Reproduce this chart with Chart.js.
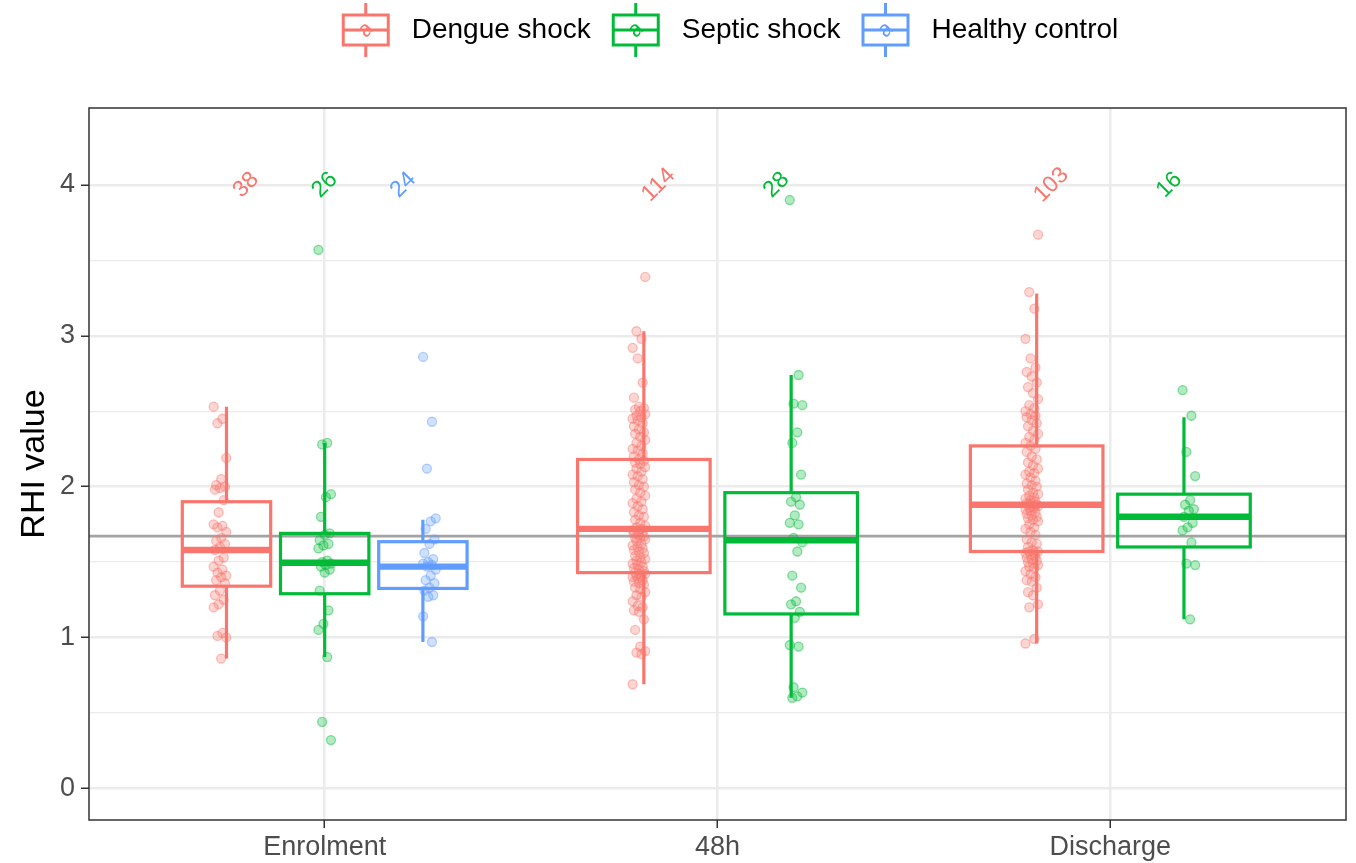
<!DOCTYPE html>
<html>
<head>
<meta charset="utf-8">
<script src="https://cdn.jsdelivr.net/npm/chart.js@4.4.1/dist/chart.umd.min.js"></script>
<style>
  html, body { margin: 0; padding: 0; background: #fff; }
</style>
</head>
<body>
<canvas id="chart" width="1356" height="863"></canvas>
<script>
const timepoints = ['Enrolment', '48h', 'Discharge']
const groupNames = ['Dengue shock', 'Septic shock', 'Healthy control']
const groupColours = ['#F8766D', '#00BA38', '#619CFF']
const yTickValues = [0, 1, 2, 3, 4]
const referenceLine = 1.672
const labelLevel = 4

// RHI values, one array per group and timepoint
const dengueEnrolment = [2.53, 2.45, 2.42, 2.19, 2.05, 2.01, 2.00, 1.99, 1.98, 1.91, 1.83, 1.75, 1.74, 1.73, 1.70, 1.66, 1.64, 1.62, 1.60, 1.58,
  1.53, 1.51, 1.47, 1.45, 1.43, 1.41, 1.40, 1.38, 1.36, 1.31, 1.28, 1.25, 1.22, 1.20, 1.03, 1.01, 1.00, 0.86]
const dengue48h = [0.69, 0.89, 0.90, 0.91, 0.94, 1.05, 1.12, 1.17, 1.18, 1.20, 1.21, 1.24, 1.27, 1.28, 1.30, 1.32, 1.33, 1.35, 1.36, 1.37,
  1.38, 1.39, 1.40, 1.40, 1.41, 1.42, 1.42, 1.43,
  1.44, 1.45, 1.46, 1.47, 1.48, 1.49, 1.50, 1.51, 1.52, 1.53, 1.54, 1.56, 1.57, 1.58, 1.59, 1.60, 1.61, 1.62, 1.64, 1.65,
  1.66, 1.66, 1.67, 1.68, 1.69, 1.70, 1.70, 1.71, 1.72,
  1.73, 1.74, 1.76, 1.78, 1.80, 1.81, 1.83, 1.85, 1.87, 1.89, 1.90, 1.92, 1.94, 1.96, 1.98, 2.00, 2.01, 2.03, 2.05, 2.07,
  2.08, 2.10, 2.12, 2.13, 2.15, 2.16, 2.17, 2.18,
  2.20, 2.22, 2.24, 2.25, 2.27, 2.29, 2.31, 2.33, 2.35, 2.36, 2.38, 2.40, 2.42, 2.44, 2.45, 2.46, 2.47, 2.48, 2.50, 2.51,
  2.52, 2.53, 2.59, 2.69, 2.85, 2.92, 2.98, 3.03, 3.39]
const dengueDischarge = [0.96, 0.99, 1.20, 1.22, 1.28, 1.30, 1.33, 1.37, 1.38, 1.40, 1.42, 1.44, 1.46, 1.47, 1.48, 1.49, 1.50, 1.51, 1.52, 1.53,
  1.54, 1.55, 1.56, 1.56, 1.57, 1.57,
  1.58, 1.60, 1.62, 1.63, 1.65, 1.68, 1.70, 1.72, 1.73, 1.75, 1.77, 1.78, 1.79, 1.80, 1.81, 1.82, 1.83, 1.84, 1.85, 1.86,
  1.86, 1.87, 1.87, 1.88, 1.88,
  1.89, 1.89, 1.90, 1.91, 1.92, 1.93, 1.94, 1.95, 1.96, 1.98, 2.00, 2.01, 2.02, 2.04, 2.06, 2.08, 2.09, 2.10, 2.12, 2.14,
  2.16, 2.18, 2.20, 2.23, 2.25, 2.27,
  2.29, 2.31, 2.33, 2.35, 2.37, 2.40, 2.42, 2.44, 2.46, 2.47, 2.48, 2.50, 2.52, 2.54, 2.58, 2.62, 2.66, 2.69, 2.73, 2.76,
  2.79, 2.85, 2.98, 3.18, 3.29, 3.67]
const septicEnrolment = [3.57, 2.29, 2.28, 1.95, 1.93, 1.80, 1.69, 1.68, 1.645, 1.62, 1.61, 1.59, 1.51, 1.50, 1.49, 1.48, 1.47, 1.45, 1.43,
  1.31, 1.18, 1.09, 1.05, 0.87, 0.44, 0.32]
const septic48h = [3.90, 2.74, 2.55, 2.54, 2.36, 2.29, 2.08, 1.93, 1.90, 1.88, 1.81, 1.76, 1.75, 1.66, 1.63, 1.57, 1.41, 1.33, 1.24, 1.22,
  1.17, 1.13, 0.95, 0.94, 0.67, 0.635, 0.61, 0.60]
const septicDischarge = [2.64, 2.47, 2.23, 2.07, 1.91, 1.88, 1.85, 1.84, 1.80, 1.76, 1.73, 1.71, 1.63, 1.49, 1.48, 1.12]
const healthyEnrolment = [2.86, 2.43, 2.12, 1.79, 1.77, 1.72, 1.65, 1.62, 1.56, 1.52, 1.50, 1.49, 1.48, 1.47, 1.45, 1.41, 1.38, 1.36, 1.33, 1.31,
  1.28, 1.27, 1.14, 0.97]

// box stats: lower whisker, Q1, median, Q3, upper whisker
const dengueBoxes = [[0.86, 1.34, 1.58, 1.90, 2.53], [0.69, 1.43, 1.72, 2.18, 3.03], [0.96, 1.57, 1.88, 2.27, 3.28]]
const septicBoxes = [[0.87, 1.29, 1.495, 1.69, 2.29], [0.60, 1.156, 1.645, 1.96, 2.74], [1.12, 1.60, 1.80, 1.95, 2.46]]
const healthyBoxes = [[0.97, 1.325, 1.47, 1.635, 1.78], null, null]

const groupValues = [
  [dengueEnrolment, dengue48h, dengueDischarge],
  [septicEnrolment, septic48h, septicDischarge],
  [healthyEnrolment, [], []],
]
const groupBoxes = [dengueBoxes, septicBoxes, healthyBoxes]

const FONT = '"Liberation Sans", Arial, Helvetica, sans-serif'

const rgba = (hex, a) => {
  const n = parseInt(hex.slice(1), 16)
  return `rgba(${(n >> 16) & 255}, ${(n >> 8) & 255}, ${n & 255}, ${a})`
}

// position of group g inside timepoint t, dodged like ggplot
const presentGroups = (t) => groupValues.map((v, i) => (v[t].length ? i : -1)).filter((i) => i >= 0)
const dodge = (t, g, width) => {
  const present = presentGroups(t)
  const n = present.length
  const k = present.indexOf(g)
  return t + 1 + ((k - (n - 1) / 2) * width) / n
}

const datasets = groupNames.map((name, g) => {
  const pts = []
  groupValues[g].forEach((vals, t) => {
    vals.forEach((v, i) => {
      const jit = (((i * 7) % 11) - 5) * 0.0032
      pts.push({ x: dodge(t, g, 0.8) + jit, y: v })
    })
  })
  return {
    label: name,
    data: pts,
    pointRadius: 4.5,
    pointHoverRadius: 4.5,
    backgroundColor: rgba(groupColours[g], 0.3),
    borderColor: rgba(groupColours[g], 0.45),
    borderWidth: 1.3,
  }
})

const boxPlugin = {
  id: 'boxes',
  beforeDatasetsDraw(chart) {
    const { ctx, chartArea, scales } = chart
    const x = scales.x
    const y = scales.y
    ctx.save()
    ctx.beginPath()
    ctx.rect(chartArea.left, chartArea.top, chartArea.right - chartArea.left, chartArea.bottom - chartArea.top)
    ctx.clip()

    // reference line
    ctx.strokeStyle = '#A3A3A3'
    ctx.lineWidth = 2.6
    ctx.beginPath()
    ctx.moveTo(chartArea.left, y.getPixelForValue(referenceLine))
    ctx.lineTo(chartArea.right, y.getPixelForValue(referenceLine))
    ctx.stroke()

    groupBoxes.forEach((boxes, g) => {
      boxes.forEach((b, t) => {
        if (!b) return
        const n = presentGroups(t).length
        const cx = dodge(t, g, 0.75)
        const hw = (0.9 * 0.75) / n / 2
        const xl = x.getPixelForValue(cx - hw)
        const xr = x.getPixelForValue(cx + hw)
        const xc = x.getPixelForValue(cx)
        const [lo, q1, med, q3, hi] = b.map((v) => y.getPixelForValue(v))
        ctx.strokeStyle = groupColours[g]
        ctx.lineWidth = 3.2
        ctx.beginPath()
        ctx.moveTo(xc, q3)
        ctx.lineTo(xc, hi)
        ctx.moveTo(xc, q1)
        ctx.lineTo(xc, lo)
        ctx.stroke()
        ctx.strokeRect(xl, q3, xr - xl, q1 - q3)
        ctx.lineWidth = 6.4
        ctx.beginPath()
        ctx.moveTo(xl, med)
        ctx.lineTo(xr, med)
        ctx.stroke()
      })
    })
    ctx.restore()
  },
  afterDatasetsDraw(chart) {
    const { ctx, scales } = chart
    ctx.save()
    ctx.font = `23px ${FONT}`
    ctx.textAlign = 'center'
    ctx.textBaseline = 'middle'
    groupValues.forEach((vals, g) => {
      vals.forEach((v, t) => {
        if (!v.length) return
        ctx.save()
        ctx.translate(scales.x.getPixelForValue(dodge(t, g, 0.6)), scales.y.getPixelForValue(labelLevel))
        ctx.rotate(-Math.PI / 4)
        ctx.fillStyle = groupColours[g]
        ctx.fillText(String(v.length), 0, 0)
        ctx.restore()
      })
    })
    ctx.restore()
  },
  afterDraw(chart) {
    const { ctx, chartArea } = chart
    ctx.save()
    // panel border
    ctx.strokeStyle = '#333333'
    ctx.lineWidth = 1.5
    ctx.strokeRect(chartArea.left, chartArea.top, chartArea.right - chartArea.left, chartArea.bottom - chartArea.top)

    // legend on top
    ctx.font = `28px ${FONT}`
    const key = 60
    const gapText = 16
    const gapItem = 15
    const widths = groupNames.map((n) => ctx.measureText(n).width)
    const total = widths.reduce((a, w) => a + key + gapText + w, 0) + gapItem * (groupNames.length - 1)
    let lx = 727 - total / 2
    const top = 0
    groupNames.forEach((name, g) => {
      const c = groupColours[g]
      ctx.strokeStyle = c
      ctx.lineWidth = 3
      const bx = lx + key * 0.125
      const bw = key * 0.75
      const mid = lx + key / 2
      ctx.beginPath()
      ctx.moveTo(mid, top + key * 0.05)
      ctx.lineTo(mid, top + key * 0.25)
      ctx.moveTo(mid, top + key * 0.75)
      ctx.lineTo(mid, top + key * 0.95)
      ctx.moveTo(bx, top + key * 0.5)
      ctx.lineTo(bx + bw, top + key * 0.5)
      ctx.stroke()
      ctx.strokeRect(bx, top + key * 0.25, bw, key * 0.5)
      ctx.save()
      ctx.translate(mid, top + key / 2)
      ctx.rotate(-Math.PI / 4)
      ctx.fillStyle = c
      ctx.font = `22px ${FONT}`
      ctx.textAlign = 'center'
      ctx.textBaseline = 'middle'
      ctx.fillText('a', 0, 0)
      ctx.restore()
      ctx.fillStyle = '#000'
      ctx.textAlign = 'left'
      ctx.textBaseline = 'middle'
      ctx.fillText(name, lx + key + gapText, top + key / 2)
      lx += key + gapText + widths[g] + gapItem
    })
    ctx.restore()
  },
}

new Chart(document.getElementById('chart'), {
  type: 'scatter',
  data: { datasets },
  plugins: [boxPlugin],
  options: {
    responsive: false,
    animation: false,
    devicePixelRatio: 1,
    layout: { padding: { top: 108, right: 10, bottom: 0, left: 0 } },
    plugins: { legend: { display: false }, tooltip: { enabled: false } },
    scales: {
      x: {
        type: 'linear',
        min: 0.4,
        max: 3.6,
        afterBuildTicks: (scale) => {
          scale.ticks = timepoints.map((_, i) => ({ value: i + 1 }))
        },
        afterFit: (scale) => {
          scale.height = 43
        },
        border: { display: false },
        grid: { color: '#EBEBEB', lineWidth: 2.5, tickLength: 8, tickColor: '#333333', tickWidth: 1.5 },
        ticks: {
          autoSkip: false,
          maxRotation: 0,
          padding: 3,
          color: '#4D4D4D',
          font: { family: FONT, size: 27 },
          callback: (v) => timepoints[v - 1],
        },
      },
      y: {
        min: -0.21,
        max: 4.51,
        afterBuildTicks: (scale) => {
          const ticks = []
          yTickValues.forEach((v, i) => {
            ticks.push({ value: v })
            if (i < yTickValues.length - 1) ticks.push({ value: v + 0.5 })
          })
          scale.ticks = ticks
        },
        afterFit: (scale) => {
          scale.width = 89
        },
        border: { display: false },
        grid: {
          color: '#EBEBEB',
          lineWidth: (c) => (c.tick && Number.isInteger(c.tick.value) ? 2.5 : 1.2),
          tickLength: 8,
          tickColor: (c) => (c.tick && Number.isInteger(c.tick.value) ? '#333333' : 'rgba(0,0,0,0)'),
          tickWidth: 1.5,
        },
        ticks: {
          padding: 6,
          color: '#4D4D4D',
          font: { family: FONT, size: 27 },
          callback: (v) => (Number.isInteger(v) ? String(v) : ''),
        },
        title: {
          display: true,
          text: 'RHI value',
          color: '#000',
          font: { family: FONT, size: 34, lineHeight: 1 },
          padding: { top: 18, bottom: 0 },
        },
      },
    },
  },
})
</script>
</body>
</html>
